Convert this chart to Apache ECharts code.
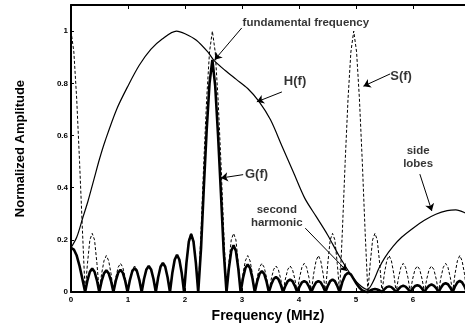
<!DOCTYPE html>
<html><head><meta charset="utf-8">
<script src="https://cdn.jsdelivr.net/npm/echarts@6/dist/echarts.min.js"></script>
<style>html,body{margin:0;padding:0;background:#fff}#c{width:465px;height:328px}</style>
</head><body><div id="c"></div>
<script>
// S(f): dashed (transmitted pulse spectrum)
const S_points = [
[0,1],[0.05,0.92],[0.1,0.74],[0.15,0.5],[0.2,0.24],[0.248,0],
[0.289,0.11],[0.331,0.2],[0.372,0.225],[0.413,0.2],[0.455,0.11],[0.496,0],
[0.537,0.07],[0.579,0.12],[0.62,0.14],[0.661,0.12],[0.703,0.07],[0.744,0],
[0.785,0.055],[0.827,0.095],[0.868,0.11],[0.909,0.095],[0.951,0.055],[0.992,0],
[1.033,0.05],[1.075,0.087],[1.116,0.1],[1.157,0.087],[1.199,0.05],[1.24,0],
[1.281,0.05],[1.323,0.087],[1.364,0.1],[1.405,0.087],[1.447,0.05],[1.488,0],
[1.529,0.055],[1.571,0.095],[1.612,0.11],[1.653,0.095],[1.695,0.055],[1.736,0],
[1.777,0.07],[1.819,0.12],[1.86,0.14],[1.901,0.12],[1.943,0.07],[1.984,0],
[2.025,0.11],[2.067,0.2],[2.108,0.225],[2.149,0.2],[2.191,0.11],[2.232,0],
[2.282,0.24],[2.33,0.5],[2.38,0.74],[2.43,0.92],[2.48,1],[2.53,0.92],[2.58,0.74],[2.63,0.5],[2.678,0.24],[2.728,0],
[2.769,0.11],[2.811,0.2],[2.852,0.225],[2.893,0.2],[2.935,0.11],[2.976,0],
[3.017,0.07],[3.059,0.12],[3.1,0.14],[3.141,0.12],[3.183,0.07],[3.224,0],
[3.265,0.055],[3.307,0.095],[3.348,0.11],[3.389,0.095],[3.431,0.055],[3.472,0],
[3.513,0.05],[3.555,0.087],[3.596,0.1],[3.637,0.087],[3.679,0.05],[3.72,0],
[3.761,0.05],[3.803,0.087],[3.844,0.1],[3.885,0.087],[3.927,0.05],[3.968,0],
[4.009,0.055],[4.051,0.095],[4.092,0.11],[4.133,0.095],[4.175,0.055],[4.216,0],
[4.257,0.07],[4.299,0.12],[4.34,0.14],[4.381,0.12],[4.423,0.07],[4.464,0],
[4.505,0.11],[4.547,0.2],[4.588,0.225],[4.629,0.2],[4.671,0.11],[4.712,0],
[4.762,0.24],[4.81,0.5],[4.86,0.74],[4.91,0.92],[4.96,1],[5.01,0.92],[5.06,0.74],[5.11,0.5],[5.158,0.24],[5.208,0],
[5.249,0.11],[5.291,0.2],[5.332,0.225],[5.373,0.2],[5.415,0.11],[5.456,0],
[5.497,0.07],[5.539,0.12],[5.58,0.14],[5.621,0.12],[5.663,0.07],[5.704,0],
[5.745,0.055],[5.787,0.095],[5.828,0.11],[5.869,0.095],[5.911,0.055],[5.952,0],
[5.993,0.05],[6.035,0.087],[6.076,0.1],[6.117,0.087],[6.159,0.05],[6.2,0],
[6.241,0.05],[6.283,0.087],[6.324,0.1],[6.365,0.087],[6.407,0.05],[6.448,0],
[6.489,0.055],[6.531,0.095],[6.572,0.11],[6.613,0.095],[6.655,0.055],[6.696,0],
[6.737,0.07],[6.779,0.12],[6.82,0.14],[6.861,0.12],[6.903,0.07],[6.944,0],
[6.985,0.11],[7.027,0.2]
];

// G(f): thick solid (received spectrum)
const G_points = [
[0,0.17],[0.05,0.163],[0.1,0.14],[0.15,0.1],[0.2,0.05],[0.248,0],
[0.289,0.045],[0.331,0.078],[0.372,0.09],[0.413,0.078],[0.455,0.045],[0.496,0],
[0.537,0.042],[0.579,0.072],[0.62,0.083],[0.661,0.072],[0.703,0.042],[0.744,0],
[0.785,0.043],[0.827,0.074],[0.868,0.085],[0.909,0.074],[0.951,0.043],[0.992,0],
[1.033,0.046],[1.075,0.08],[1.116,0.092],[1.157,0.08],[1.199,0.046],[1.24,0],
[1.281,0.05],[1.323,0.087],[1.364,0.1],[1.405,0.087],[1.447,0.05],[1.488,0],
[1.529,0.056],[1.571,0.097],[1.612,0.112],[1.653,0.097],[1.695,0.056],[1.736,0],
[1.777,0.072],[1.819,0.124],[1.86,0.143],[1.901,0.124],[1.943,0.072],[1.984,0],
[2.025,0.111],[2.067,0.193],[2.108,0.222],[2.149,0.193],[2.191,0.111],[2.232,0],
[2.282,0.17],[2.33,0.4],[2.38,0.62],[2.43,0.8],[2.48,0.89],[2.53,0.79],[2.58,0.6],[2.63,0.38],[2.678,0.16],[2.728,0],
[2.769,0.09],[2.811,0.157],[2.852,0.18],[2.893,0.157],[2.935,0.09],[2.976,0],
[3.017,0.053],[3.059,0.092],[3.1,0.106],[3.141,0.092],[3.183,0.053],[3.224,0],
[3.265,0.04],[3.307,0.07],[3.348,0.08],[3.389,0.07],[3.431,0.04],[3.472,0],
[3.513,0.029],[3.555,0.05],[3.596,0.058],[3.637,0.05],[3.679,0.029],[3.72,0],
[3.761,0.024],[3.803,0.042],[3.844,0.048],[3.885,0.042],[3.927,0.024],[3.968,0],
[4.009,0.021],[4.051,0.037],[4.092,0.042],[4.133,0.037],[4.175,0.021],[4.216,0],
[4.257,0.021],[4.299,0.037],[4.34,0.042],[4.381,0.037],[4.423,0.021],[4.464,0],
[4.505,0.024],[4.547,0.042],[4.588,0.048],[4.629,0.042],[4.671,0.024],[4.712,0],
[4.762,0.04],[4.81,0.065],[4.86,0.074],[4.91,0.068],[4.96,0.05],[5.01,0.032],[5.06,0.017],[5.11,0.006],[5.158,0.002],[5.208,0],
[5.249,0.006],[5.291,0.01],[5.332,0.012],[5.373,0.01],[5.415,0.006],[5.456,0],
[5.497,0.011],[5.539,0.019],[5.58,0.022],[5.621,0.019],[5.663,0.011],[5.704,0],
[5.745,0.012],[5.787,0.021],[5.828,0.024],[5.869,0.021],[5.911,0.012],[5.952,0],
[5.993,0.013],[6.035,0.023],[6.076,0.026],[6.117,0.023],[6.159,0.013],[6.2,0],
[6.241,0.015],[6.283,0.025],[6.324,0.029],[6.365,0.025],[6.407,0.015],[6.448,0],
[6.489,0.017],[6.531,0.03],[6.572,0.034],[6.613,0.03],[6.655,0.017],[6.696,0],
[6.737,0.022],[6.779,0.037],[6.82,0.043],[6.861,0.037],[6.903,0.022],[6.944,0],
[6.985,0.025],[7.027,0.045]
];

// H(f): thin solid (transducer response)
const H_points = [
[0,0.17],[0.1,0.21],[0.2,0.28],[0.3,0.35],[0.4,0.43],[0.5,0.51],[0.6,0.58],[0.8,0.7],
[1.0,0.79],[1.2,0.87],[1.4,0.93],[1.6,0.97],[1.85,1.0],[2.0,0.99],[2.2,0.965],[2.4,0.92],
[2.5,0.89],[2.7,0.85],[2.9,0.815],[3.1,0.78],[3.3,0.73],[3.5,0.66],[3.7,0.56],[3.9,0.46],
[4.1,0.36],[4.3,0.29],[4.5,0.22],[4.7,0.14],[4.9,0.07],[5.05,0.03],[5.2,0.01],[5.3,0.04],
[5.4,0.09],[5.5,0.13],[5.65,0.175],[5.8,0.21],[6.0,0.245],[6.2,0.275],[6.4,0.298],[6.6,0.312],
[6.75,0.315],[6.9,0.305],[7.0,0.29]
];

const xMax = 6.912;
const xTicks = [0,1,2,3,4,5,6];
const yTicks = [0,0.2,0.4,0.6,0.8,1];

const labelTexts = ['fundamental frequency','H(f)','S(f)','G(f)','second\nharmonic','side\nlobes'];
const labelX = [4.12, 3.93, 5.79, 3.254, 3.61, 6.09];
const labelY = [1.032, 0.806, 0.828, 0.451, 0.289, 0.515];
const labelSize = [11.5, 13, 13, 13, 11.5, 11.5];

const arrowFrom = [[2.995,1.012],[3.70,0.767],[5.60,0.836],[3.02,0.45],[4.11,0.245],[6.12,0.452]];
const arrowTo   = [[2.52,0.89],[3.26,0.729],[5.13,0.789],[2.63,0.437],[4.84,0.081],[6.33,0.311]];

const FONT = 'Liberation Sans, Arial, sans-serif';
const chart = echarts.init(document.getElementById('c'), null, {renderer:'canvas'});
const axisText = {color:'#000', fontFamily:FONT, fontWeight:'bold', fontSize:8};
const isTick = (arr, v) => arr.some(t => Math.abs(t - v) < 1e-6);

chart.setOption({
  animation:false,
  backgroundColor:'#fff',
  grid:{left:71, right:0, top:5, bottom:31.5, containLabel:false},
  xAxis:[{
    type:'value', min:0, max:xMax, interval:1,
    name:'Frequency (MHz)', nameLocation:'middle', nameGap:11,
    nameTextStyle:{color:'#000', fontFamily:FONT, fontWeight:'bold', fontSize:14},
    axisLine:{lineStyle:{color:'#000', width:2}},
    axisTick:{inside:true, length:4, lineStyle:{color:'#000'}},
    axisLabel:{...axisText, margin:4, showMaxLabel:false,
      formatter:v => isTick(xTicks, v) ? String(Math.round(v)) : ''},
    splitLine:{show:false}
  },{
    type:'value', position:'top', min:0, max:xMax, interval:1,
    axisLine:{lineStyle:{color:'#000', width:2}},
    axisTick:{inside:true, length:4, lineStyle:{color:'#000'}},
    axisLabel:{show:false}, splitLine:{show:false}
  }],
  yAxis:{
    type:'value', min:0, max:1.1, interval:0.2,
    name:'Normalized Amplitude', nameLocation:'middle', nameGap:44,
    nameTextStyle:{color:'#000', fontFamily:FONT, fontWeight:'bold', fontSize:13},
    axisLine:{lineStyle:{color:'#000', width:2}},
    axisTick:{inside:true, length:3, lineStyle:{color:'#000'}},
    axisLabel:{...axisText, margin:3, showMaxLabel:false,
      formatter:v => isTick(yTicks, v) ? String(+v.toFixed(1)) : ''},
    splitLine:{show:false}
  },
  series:[
    {type:'line', data:S_points, showSymbol:false, symbol:'none',
     lineStyle:{color:'#000', width:1, type:[3,2]}, z:2},
    {type:'line', data:H_points, showSymbol:false, symbol:'none', smooth:0.3,
     lineStyle:{color:'#000', width:1.2}, z:3},
    {type:'line', data:G_points, showSymbol:false, symbol:'none',
     lineStyle:{color:'#000', width:2.6}, z:4},
    {type:'lines', coordinateSystem:'cartesian2d', polyline:false,
     symbol:['none','arrow'], symbolSize:7,
     lineStyle:{color:'#000', width:1, opacity:1, curveness:0},
     data:arrowFrom.map((f,i)=>({coords:[f, arrowTo[i]]})), z:5},
    {type:'scatter', symbolSize:0, silent:true, z:6,
     data:labelTexts.map((t,i)=>({name:t, value:[labelX[i], labelY[i]],
       label:{fontSize:labelSize[i], lineHeight:labelSize[i]===13?15:13}})),
     label:{show:true, position:'inside', formatter:'{b}', color:'#000',
       fontFamily:FONT, fontWeight:'bold', align:'center', verticalAlign:'middle'}}
  ]
});
</script></body></html>
